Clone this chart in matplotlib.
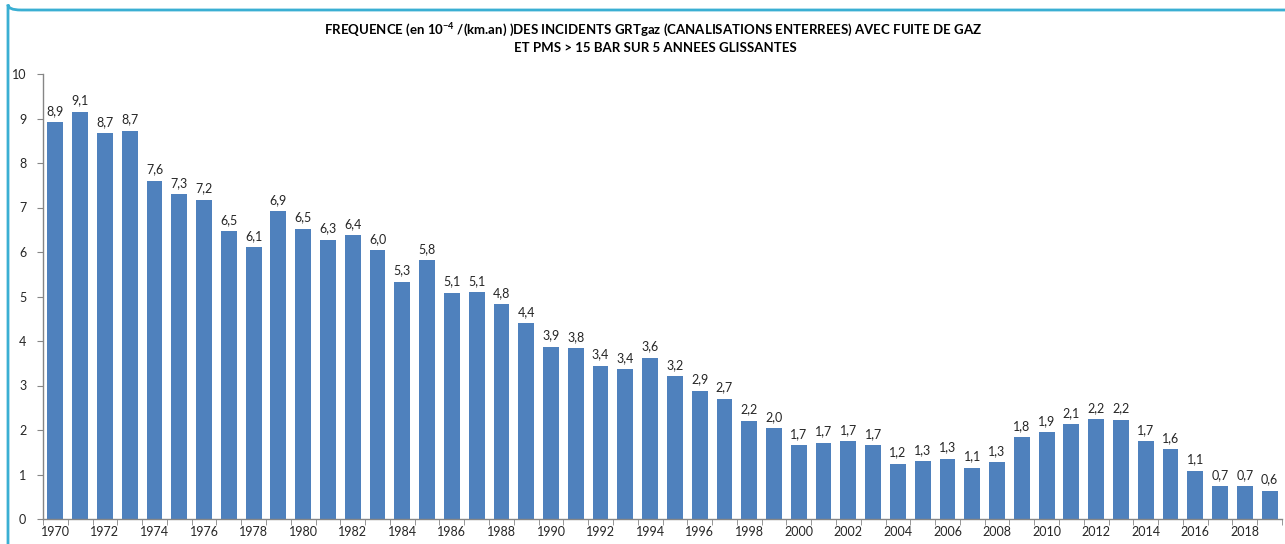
import numpy as np
import matplotlib
matplotlib.use("Agg")
import matplotlib.pyplot as plt
from matplotlib.patches import FancyBboxPatch

# data
years = list(range(1970, 2020))
values = [8.92, 9.15, 8.67, 8.72, 7.60, 7.30, 7.17, 6.47, 6.11, 6.92,
          6.52, 6.27, 6.38, 6.04, 5.33, 5.82, 5.08, 5.10, 4.83, 4.40,
          3.87, 3.84, 3.44, 3.36, 3.62, 3.21, 2.88, 2.70, 2.21, 2.04,
          1.66, 1.71, 1.75, 1.66, 1.24, 1.30, 1.35, 1.15, 1.28, 1.84,
          1.95, 2.13, 2.24, 2.23, 1.75, 1.57, 1.08, 0.74, 0.74, 0.63]
labels = ["8,9", "9,1", "8,7", "8,7", "7,6", "7,3", "7,2", "6,5", "6,1", "6,9",
          "6,5", "6,3", "6,4", "6,0", "5,3", "5,8", "5,1", "5,1", "4,8", "4,4",
          "3,9", "3,8", "3,4", "3,4", "3,6", "3,2", "2,9", "2,7", "2,2", "2,0",
          "1,7", "1,7", "1,7", "1,7", "1,2", "1,3", "1,3", "1,1", "1,3", "1,8",
          "1,9", "2,1", "2,2", "2,2", "1,7", "1,6", "1,1", "0,7", "0,7", "0,6"]
yticks = list(range(0, 11))

plt.rcParams['font.family'] = ['Lato', 'DejaVu Sans']
plt.rcParams['mathtext.default'] = 'regular'

W, H = 1285, 544
fig = plt.figure(figsize=(W / 100, H / 100), dpi=100)
fig.set_facecolor("white")

# light blue frame (cropped at right and bottom)
frame = FancyBboxPatch((8 / W, 1 - 10 / H), 1.2, -1.2, boxstyle="round,pad=0,rounding_size=0.01",
                       transform=fig.transFigure, fill=False, edgecolor="#3AAFD3", linewidth=2)
fig.patches.append(frame)

left, right = 43 / W, 1282 / W
bottom, top = 1 - 519 / H, 1 - 74 / H
ax = fig.add_axes([left, bottom, right - left, top - bottom])

x = np.arange(len(years))
ax.bar(x, values, width=0.64, color="#4F81BD")
for xi, v, lab in zip(x, values, labels):
    ax.text(xi, v + 0.12, lab, ha="center", va="bottom", fontsize=9, color="#262626")

ax.set_xlim(-0.5, len(years) - 0.5)
ax.set_ylim(0, 10)
ax.set_yticks(yticks)
ax.set_yticklabels([str(t) for t in yticks])
ax.set_xticks(x[::2])
ax.set_xticklabels([str(y) for y in years[::2]])
ax.set_xticks(np.arange(-0.5, len(years), 1), minor=True)
ax.tick_params(axis="x", which="major", length=0, labelsize=9, colors="#262626", pad=5)
ax.tick_params(axis="x", which="minor", length=4, color="#868686")
ax.tick_params(axis="y", length=4, color="#868686", labelsize=9, labelcolor="#262626", pad=8)
for s in ["top", "right"]:
    ax.spines[s].set_visible(False)
for s in ["left", "bottom"]:
    ax.spines[s].set_color("#868686")
    ax.spines[s].set_linewidth(1)

fig.text(653 / W, 1 - 30 / H,
         "FREQUENCE (en 10$^{-4}$ /(km.an) )DES INCIDENTS GRTgaz (CANALISATIONS ENTERREES) AVEC FUITE DE GAZ",
         ha="center", va="center", fontsize=9.5, fontweight="bold", color="#000000")
fig.text(655 / W, 1 - 48 / H, "ET PMS > 15 BAR SUR 5 ANNEES GLISSANTES",
         ha="center", va="center", fontsize=9.5, fontweight="bold", color="#000000")

fig.savefig("out.png", dpi=100, facecolor="white")
